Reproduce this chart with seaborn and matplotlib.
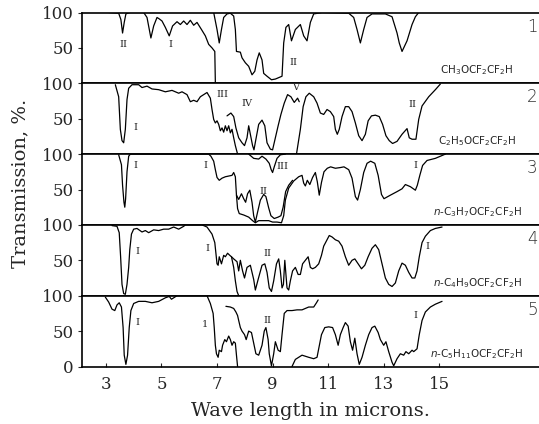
import matplotlib
matplotlib.use("Agg")
import matplotlib.pyplot as plt
import seaborn as sns
import pandas as pd

# ---------------- data (wavelength in microns, transmission %) ----------------
P1A_WL = [3.10,3.46,3.54,3.60,3.66,3.72,3.78,3.88,4.36,4.48,4.62,4.72,4.84,4.92,5.02,5.14,5.28,5.40,5.56,5.68,5.80,5.92,6.04,6.16,6.28,6.44,6.58,6.70,6.82,6.92,6.94]
P1A_T = [100,99,90,71,86,98,99,100,100,93,64,81,93,91,88,79,67,81,87,83,88,83,89,82,86,76,67,55,50,45,1]
P1B_WL = [6.88,7.00,7.08,7.16,7.24,7.36,7.48,7.60,7.66,7.70,7.84,7.90,8.02,8.14,8.26,8.36,8.44,8.52,8.62,8.68,8.80,8.96,9.10,9.34,9.40,9.48,9.58,9.68,9.82,10.00,10.12,10.24,10.36,10.48,10.78,11.74,11.92,12.04,12.16,12.28,12.40,12.58,13.06,13.30,13.48,13.56,13.66,13.84,14.02,14.14,14.26]
P1B_T = [100,76,57,76,93,98,99,95,76,45,44,36,29,24,12,17,33,43,33,14,10,5,6,10,57,79,83,60,76,83,67,60,86,98,100,99,93,76,57,76,93,98,98,94,71,57,45,60,83,94,100]

P2A_WL = [3.34,3.46,3.52,3.58,3.64,3.70,3.76,3.82,3.94,4.18,4.30,4.48,4.66,4.90,5.14,5.38,5.62,5.74,5.92,6.04,6.16,6.28,6.40,6.52,6.64,6.76,6.82,6.88,6.94,7.00,7.06,7.12,7.18,7.24,7.30,7.36,7.42,7.48,7.54,7.60,7.66,7.74]
P2A_T = [98,81,35,19,16,35,77,93,98,98,94,96,92,91,88,90,86,88,84,74,76,74,81,84,87,79,63,49,44,47,42,33,37,31,40,33,40,30,35,23,12,0]
P2B_WL = [7.36,7.50,7.60,7.68,7.78,7.90,7.99,8.08,8.14,8.20,8.28,8.33,8.40,8.50,8.62,8.72,8.80,8.92,9.00,9.10,9.20,9.30,9.42,9.54,9.66,9.78,9.90,9.96]
P2B_T = [54,58,53,37,23,16,12,23,40,28,12,6,21,42,48,40,16,7,6,23,40,56,72,84,81,73,79,74]
P2C_WL = [9.86,10.00,10.10,10.20,10.32,10.48,10.60,10.72,10.84,10.96,11.08,11.20,11.26,11.33,11.40,11.50,11.62,11.74,11.86,11.98,12.10,12.22,12.34,12.44,12.56,12.70,12.84,12.96,13.08,13.20,13.32,13.48,13.66,13.84,13.92,14.02,14.16,14.26,14.38,14.62,14.86,15.04]
P2C_T = [0,35,67,81,86,81,72,58,56,63,60,53,35,28,35,53,67,67,60,44,26,19,28,47,54,55,53,42,26,19,15,18,28,36,23,21,21,49,68,81,91,99]

P3A_WL = [3.46,3.56,3.60,3.65,3.68,3.71,3.76,3.82,3.88,6.70,6.78,6.88,6.94,7.00,7.08,7.18,7.30,7.42,7.54,7.60,7.66,7.70,7.74,7.80,7.96,8.14,8.28,8.38,8.50,8.68,8.86,9.00,9.16,9.32,9.40,9.46,9.58,9.76,9.94,10.06,10.12,10.18,10.25,10.34,10.44,10.54,10.61,10.68,10.76,10.85,10.97,11.09,11.26,11.44,11.57,11.74,11.86,11.98,12.06,12.16,12.28,12.40,12.53,12.68,12.80,12.92,13.01,13.24,13.48,13.66,13.78,13.96,14.14,14.21,14.30,14.40,14.56,14.86,15.10,15.22]
P3A_T = [99,85,56,32,25,37,75,97,100,100,97,90,78,67,63,66,68,69,70,74,68,42,23,16,14,11,6,3,6,6,6,4,4,3,13,35,52,62,68,70,59,55,63,57,67,74,61,42,60,75,80,82,80,81,82,78,66,40,35,50,74,87,90,87,70,43,37,42,47,51,57,54,49,56,70,84,91,94,98,100]
P3D_WL = [7.70,7.78,7.88,7.96,8.03,8.10,8.18,8.26,8.32,8.38,8.46,8.56,8.68,8.76,8.86,8.94,9.06,9.20,9.30,9.38,9.47,9.58,9.72]
P3D_T = [42,36,44,37,32,44,49,32,13,4,18,35,43,40,24,13,9,11,13,25,47,56,63]
P3E_WL = [8.14,8.32,8.50,8.62,8.76,8.88,8.95,9.00,9.06,9.16,9.28,9.46]
P3E_T = [100,94,93,97,93,87,78,74,82,94,99,100]

P4A_WL = [3.22,3.40,3.48,3.53,3.58,3.64,3.70,3.76,3.82,3.86,3.92,4.00,4.12,4.30,4.42,4.54,4.72,4.90,5.08,5.26,5.44,5.62,5.80,5.86,6.46,6.64,6.82,6.92,6.96,7.00,7.04,7.08,7.16,7.24,7.30,7.38,7.46,7.52,7.60,7.66,7.72,7.78]
P4A_T = [99,98,89,55,16,3,2,16,40,65,87,94,95,90,92,89,93,92,94,94,97,94,98,100,100,97,87,75,60,45,43,55,45,57,55,60,57,55,40,21,6,0]
P4B_WL = [7.52,7.60,7.72,7.78,7.84,7.92,7.99,8.08,8.20,8.32,8.38,8.48,8.62,8.72,8.80,8.88,8.96,9.04,9.14,9.22,9.28,9.34,9.39,9.44,9.52,9.58,9.64,9.72,9.82,9.92,10.00,10.08,10.18,10.28,10.36,10.44,10.54,10.66,10.76,10.84,10.96,11.04,11.14,11.26,11.38,11.50,11.62,11.74,11.86,11.96,12.08,12.20,12.32,12.44,12.58,12.70,12.82,12.94,13.06,13.18,13.30,13.42,13.54,13.66,13.78,13.90,14.02,14.12,14.20,14.28,14.38,14.50,14.68,14.86,15.10]
P4B_T = [55,52,48,35,50,35,25,40,43,23,8,23,43,45,33,11,6,21,45,52,35,11,16,50,11,8,21,35,40,30,30,45,50,55,40,38,40,45,57,70,79,85,83,79,77,70,55,43,50,52,45,38,43,55,67,72,65,45,25,16,13,18,35,46,43,33,25,25,35,55,75,84,92,95,97]

P5A_WL = [2.98,3.10,3.22,3.32,3.40,3.48,3.56,3.62,3.66,3.72,3.78,3.84,3.90,4.00,4.18,4.42,4.66,4.90,5.14,5.28,5.36,5.44,5.56,6.64,6.76,6.86,6.90,6.94,6.98,7.04,7.08,7.16,7.20,7.28,7.34,7.42,7.48,7.54,7.60,7.66,7.70,7.74]
P5A_T = [98,91,81,79,87,90,84,55,16,3,16,55,79,89,92,92,90,92,97,99,95,97,100,100,89,75,55,30,18,13,23,21,30,38,35,43,38,30,35,33,16,0]
P5B_WL = [7.32,7.48,7.60,7.68,7.74,7.78,7.84,7.90,7.99,8.05,8.14,8.24,8.32,8.40,8.50,8.62,8.70,8.76,8.84,8.88,8.96,9.04,9.10,9.20,9.28,9.34,9.42,9.52,9.70,9.88,10.06,10.30,10.48,10.58,10.64]
P5B_T = [85,84,82,77,72,65,55,50,45,38,50,48,33,18,16,30,50,55,38,18,1,18,35,23,21,45,75,79,79,80,80,84,84,90,94]
P5C_WL = [9.70,9.82,10.06,10.30,10.48,10.60,10.66,10.76,10.88,11.02,11.16,11.26,11.36,11.44,11.54,11.62,11.72,11.80,11.88,11.96,12.04,12.12,12.22,12.34,12.46,12.58,12.68,12.80,12.88,13.00,13.08,13.18,13.30,13.36,13.48,13.60,13.72,13.80,13.90,14.02,14.08,14.20,14.28,14.38,14.50,14.68,14.86,15.10]
P5C_T = [0,10,16,13,11,13,25,45,55,56,55,45,30,45,55,62,57,35,23,40,18,3,13,30,45,55,57,48,38,30,35,21,6,1,11,18,16,21,18,23,21,25,45,65,77,84,88,92]

PANELS = [
    [(P1A_WL, P1A_T), (P1B_WL, P1B_T)],
    [(P2A_WL, P2A_T), (P2B_WL, P2B_T), (P2C_WL, P2C_T)],
    [(P3A_WL, P3A_T), (P3D_WL, P3D_T), (P3E_WL, P3E_T)],
    [(P4A_WL, P4A_T), (P4B_WL, P4B_T)],
    [(P5A_WL, P5A_T), (P5B_WL, P5B_T), (P5C_WL, P5C_T)],
]

FORMULAS = [r"CH$_3$OCF$_2$CF$_2$H", r"C$_2$H$_5$OCF$_2$CF$_2$H",
            r"$n$-C$_3$H$_7$OCF$_2$CF$_2$H", r"$n$-C$_4$H$_9$OCF$_2$CF$_2$H",
            r"$n$-C$_5$H$_{11}$OCF$_2$CF$_2$H"]
PANEL_NUMS = ["1", "2", "3", "4", "5"]
BAND_LABELS = [
    [("II", 3.64, 55), ("I", 5.32, 55), ("II", 9.76, 29)],
    [("I", 4.06, 37), ("III", 7.18, 84), ("IV", 8.08, 72), ("V", 9.82, 94), ("II", 14.02, 70)],
    [("I", 4.06, 84), ("I", 6.58, 84), ("II", 8.68, 47), ("III", 9.34, 82), ("I", 14.14, 84)],
    [("I", 4.12, 62), ("I", 6.64, 67), ("II", 8.80, 60), ("I", 14.56, 70)],
    [("I", 4.12, 62), ("1", 6.56, 60), ("II", 8.80, 65), ("I", 14.14, 72)],
]
X_TICKS = [3, 5, 7, 9, 11, 13, 15]

# ---------------- style ----------------
sns.set_style("white")
plt.rcParams['font.family'] = ['DejaVu Serif']
plt.rcParams['mathtext.fontset'] = 'dejavusans'

fig, axes = plt.subplots(5, 1, sharex=True, figsize=(5.39, 4.24), dpi=100)
fig.subplots_adjust(left=82/539, right=1.0, top=1-12.5/424, bottom=1-366.5/424, hspace=0)

for i, ax in enumerate(axes):
    frames = []
    for k, (wl, t) in enumerate(PANELS[i]):
        frames.append(pd.DataFrame({"wl": wl, "T": t, "seg": k}))
    df = pd.concat(frames, ignore_index=True)
    sns.lineplot(data=df, x="wl", y="T", units="seg", estimator=None, sort=False,
                 color="black", lw=0.9, ax=ax, legend=False)
    ax.set_xlim(2.14, 18.59)
    ax.set_ylim(0, 100)
    ax.set_xlabel("")
    ax.set_ylabel("")
    if i == 4:
        ax.set_yticks([0, 50, 100])
    else:
        ax.set_yticks([50, 100])
    ax.tick_params(axis="y", labelsize=12, length=3, width=0.8, pad=3, direction="out", left=True)
    for s in ["top", "bottom", "left"]:
        ax.spines[s].set_visible(True)
        ax.spines[s].set_color("black")
        ax.spines[s].set_linewidth(1.2)
    ax.spines["right"].set_visible(False)
    for txt, x, y in BAND_LABELS[i]:
        ax.text(x, y, txt, fontsize=7, ha="center", va="center", family="DejaVu Serif")
    ax.text(16.36, 18, FORMULAS[i], fontsize=7.5, ha="center", va="center", family="DejaVu Sans")
    ax.text(18.35, 80, PANEL_NUMS[i], fontsize=12, ha="center", va="center",
            family="DejaVu Sans", fontweight="light", color="#333333")

axes[-1].set_xticks(X_TICKS)
axes[-1].set_xticklabels([str(v) for v in X_TICKS])
axes[-1].tick_params(axis="x", labelsize=12, direction="in", length=3, width=0.8, pad=7, bottom=True)
axes[-1].set_xlabel("Wave length in microns.", fontsize=14, labelpad=6)
fig.text(0.038, 0.568, "Transmission, %.", rotation=90, fontsize=14, ha="center", va="center")

fig.savefig("out.png", dpi=100, facecolor="white")
